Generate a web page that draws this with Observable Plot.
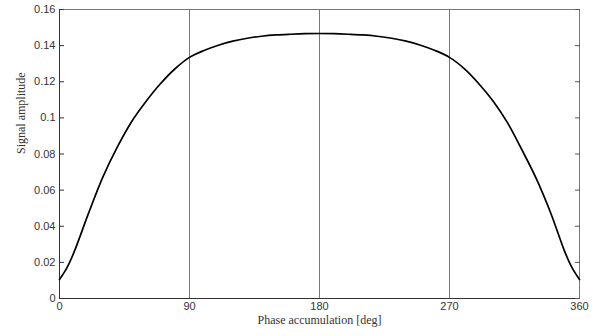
<!DOCTYPE html>
<html>
<head>
<meta charset="utf-8">
<script src="https://cdn.jsdelivr.net/npm/d3@7"></script>
<script src="https://cdn.jsdelivr.net/npm/@observablehq/plot@0.6"></script>
<style>
  html, body { margin: 0; padding: 0; background: #fff; }
  #chart { width: 598px; height: 336px; }
</style>
</head>
<body>
<div id="chart"></div>
<script>
const phaseDeg = [0, 5, 10, 20, 30, 40, 50, 60, 70, 80, 90, 100, 110, 120, 130, 140, 150, 160, 170, 180,
                  190, 200, 210, 220, 230, 240, 250, 260, 270, 280, 290, 300, 310, 320, 330, 340, 350, 355, 360];
const amplitude = [0.0105, 0.0168, 0.0255, 0.0470, 0.0672, 0.0838, 0.0980, 0.1092, 0.1190, 0.1272, 0.1335, 0.1373, 0.1402, 0.1425, 0.1441, 0.1452, 0.1459, 0.1463, 0.1466, 0.1467,
                   0.1466, 0.1463, 0.1459, 0.1452, 0.1441, 0.1425, 0.1402, 0.1373, 0.1335, 0.1274, 0.1192, 0.1095, 0.0975, 0.0825, 0.0665, 0.0475, 0.0255, 0.0168, 0.0105];
const xTicks = [0, 90, 180, 270, 360];
const yTicks = [0, 0.02, 0.04, 0.06, 0.08, 0.1, 0.12, 0.14, 0.16];
const gridDeg = [90, 180, 270];
const xLabel = "Phase accumulation [deg]";
const yLabel = "Signal amplitude";

const data = phaseDeg.map((d, i) => ({deg: d, amp: amplitude[i]}));
const sans = "'Liberation Sans', Arial, sans-serif";
const serif = "'Liberation Serif', 'Times New Roman', serif";

const chart = Plot.plot({
  width: 598,
  height: 336,
  marginLeft: 59,
  marginRight: 19,
  marginTop: 9,
  marginBottom: 38,
  style: {background: "#fff", color: "#333"},
  x: {domain: [0, 360], label: null},
  y: {domain: [0, 0.16], label: null},
  marks: [
    Plot.ruleX(gridDeg, {stroke: "#777", strokeWidth: 1}),
    Plot.ruleX([0], {stroke: "#333"}),
    Plot.ruleX([360], {stroke: "#777"}),
    Plot.ruleY([0], {stroke: "#333"}),
    Plot.ruleY([0.16], {stroke: "#777"}),
    Plot.axisY(yTicks, {anchor: "left", tickSize: 5, text: null, dx: 5, stroke: "#333"}),
    Plot.axisY(yTicks, {anchor: "right", tickSize: 5, text: null, dx: -5, stroke: "#555"}),
    Plot.axisY(yTicks, {anchor: "left", tickSize: 0, tickPadding: 4, fontSize: 11, fontFamily: sans, fill: "#333",
      tickFormat: d => String(+d.toFixed(2)), label: null}),
    Plot.axisX(xTicks, {anchor: "bottom", tickSize: 0, tickPadding: 4, fontSize: 11, fontFamily: sans, fill: "#333", label: null}),
    Plot.line(data, {x: "deg", y: "amp", curve: "catmull-rom", stroke: "#000", strokeWidth: 1.7}),
    Plot.text([xLabel], {frameAnchor: "bottom", dy: 25, fontSize: 12, fontFamily: serif, fill: "#333"}),
    Plot.text([yLabel], {frameAnchor: "left", dx: -38, rotate: -90, fontSize: 12, fontFamily: serif, fill: "#333"})
  ]
});
document.getElementById("chart").append(chart);
</script>
</body>
</html>
